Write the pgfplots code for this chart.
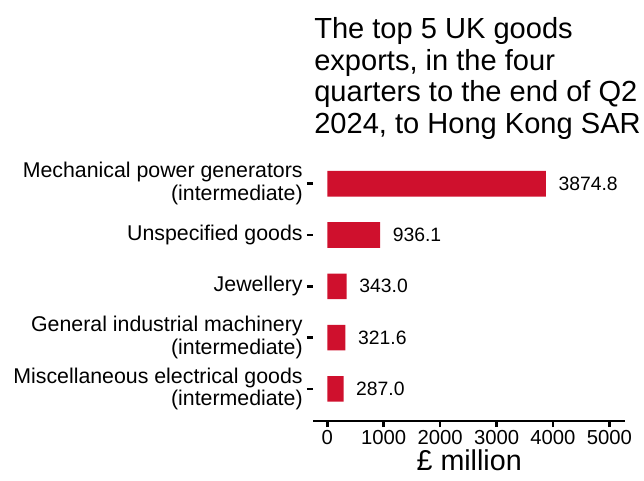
\documentclass[border=0pt]{standalone}
\usepackage{fontspec}
\setmainfont{Liberation Sans}
\usepackage{pgfplots}
\pgfplotsset{compat=1.18}
\definecolor{barred}{RGB}{207,16,45}

\begin{document}
\begin{tikzpicture}
  \useasboundingbox (0,0) rectangle (483pt,360.75pt);
  % title, left aligned with the axis
  \node[anchor=north west, align=left, inner sep=0pt,
        font=\fontsize{21.8}{23.8}\selectfont] at (235.5pt,348pt)
    {The top 5 UK goods\\exports, in the four\\quarters to the end of Q2\\2024, to Hong Kong SAR};
  \begin{axis}[
    at={(235pt,45.2pt)}, anchor=south west,
    scale only axis,
    width=233.8pt, height=201.6pt,
    xbar,
    bar width=0.5,
    xmin=-248, xmax=5278,
    ymin=0.38, ymax=5.62,
    axis x line*=bottom,
    axis y line*=left,
    x axis line style={-, line width=1.7pt},
    y axis line style={draw=none},
    xtick={0,1000,2000,3000,4000,5000},
    ytick={1,2,3,4,5},
    yticklabels={{Miscellaneous electrical goods\\(intermediate)},
                 {General industrial machinery\\(intermediate)},
                 {Jewellery},
                 {Unspecified goods},
                 {Mechanical power generators\\(intermediate)}},
    tick align=outside,
    major tick length=4.8pt,
    tick style={black, line width=1.9pt},
    /pgf/number format/assume math mode=true,
    /pgf/number format/1000 sep={},
    xticklabel style={font=\fontsize{15.2}{18}\selectfont, inner sep=2pt},
    yticklabel style={font=\fontsize{16}{17}\selectfont, align=right, inner sep=3pt},
    xlabel={£ million},
    xlabel style={font=\fontsize{21.5}{24}\selectfont, inner sep=0pt, yshift=-2pt},
    nodes near coords={\pgfmathprintnumber[fixed,fixed zerofill,precision=1,1000 sep={}]{\pgfplotspointmeta}},
    every node near coord/.append style={font=\fontsize{14.5}{16}\selectfont, black, anchor=west, xshift=6pt},
  ]
    \addplot[fill=barred, draw=none] coordinates {
      (287.0,1) (321.6,2) (343.0,3) (936.1,4) (3874.8,5)
    };
  \end{axis}
\end{tikzpicture}
\end{document}
